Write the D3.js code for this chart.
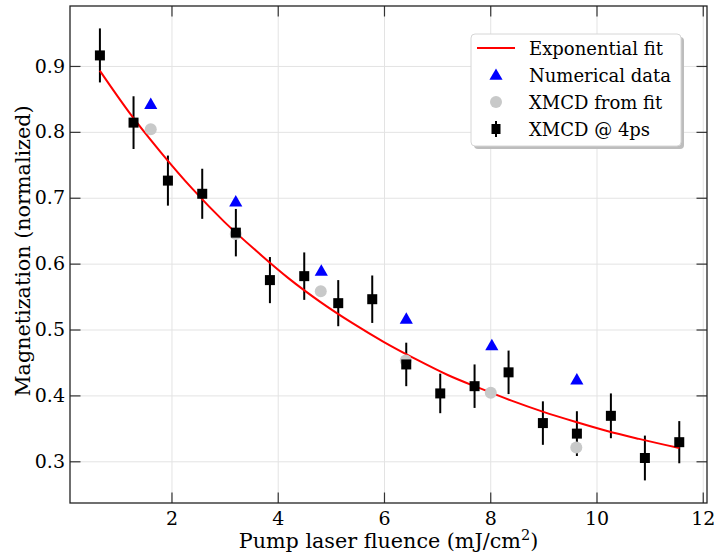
<!DOCTYPE html>
<html>
<head>
<meta charset="utf-8">
<script src="https://cdn.jsdelivr.net/npm/d3@7"></script>
<style>
  body { margin: 0; background: #fff; }
  text { font-family: "DejaVu Serif", serif; fill: #000; }
</style>
</head>
<body>
<div id="chart"></div>
<script>
// XMCD @ 4ps (squares with error bars)
const xmcdX   = [0.653, 1.286, 1.933, 2.579, 3.212, 3.853, 4.499, 5.139, 5.779, 6.419, 7.059, 7.705, 8.345, 8.991, 9.631, 10.271, 10.911, 11.558];
const xmcdY   = [0.916, 0.814, 0.726, 0.706, 0.647, 0.575, 0.581, 0.540, 0.546, 0.447, 0.403, 0.414, 0.435, 0.358, 0.342, 0.369, 0.305, 0.329];
const xmcdErr = [0.041, 0.040, 0.038, 0.038, 0.036, 0.035, 0.036, 0.035, 0.036, 0.033, 0.030, 0.033, 0.033, 0.033, 0.034, 0.034, 0.034, 0.032];

// Numerical data (triangles)
const numX = [1.61, 3.21, 4.82, 6.42, 8.03, 9.63];
const numY = [0.842, 0.694, 0.589, 0.516, 0.476, 0.424];

// XMCD from fit (grey circles)
const fromFitX = [1.61, 3.21, 4.81, 6.41, 8.01, 9.62];
const fromFitY = [0.804, 0.645, 0.558, 0.453, 0.404, 0.321];

// Exponential fit
const fitX = [0.65, 1.2, 1.8, 2.4, 3.0, 3.6, 4.2, 4.8, 5.4, 6.0, 6.6, 7.2, 7.8, 8.4, 9.0, 9.6, 10.2, 10.8, 11.56];
const fitY = [0.893, 0.830, 0.769, 0.713, 0.663, 0.619, 0.578, 0.542, 0.510, 0.481, 0.455, 0.431, 0.411, 0.392, 0.375, 0.360, 0.346, 0.334, 0.320];

const xTicks = [2, 4, 6, 8, 10, 12];
const yTicks = [0.3, 0.4, 0.5, 0.6, 0.7, 0.8, 0.9];
const legendLabels = ["Exponential fit", "Numerical data", "XMCD from fit", "XMCD @ 4ps"];

const W = 714, H = 554;
const pL = 70, pR = 707, pT = 6, pB = 503;

const svg = d3.select("#chart").append("svg")
  .attr("width", W).attr("height", H);

const x = d3.scaleLinear().domain([0.09, 12.08]).range([pL, pR]);
const y = d3.scaleLinear().domain([0.2367, 0.991]).range([pB, pT]);

// grid
svg.append("g")
  .attr("transform", `translate(0,${pB})`)
  .call(d3.axisBottom(x).tickValues(xTicks).tickSize(-(pB - pT)).tickFormat(""))
  .call(g => g.select(".domain").remove())
  .call(g => g.selectAll("line").attr("stroke", "#e3e3e3").attr("stroke-width", 1));
svg.append("g")
  .attr("transform", `translate(${pL},0)`)
  .call(d3.axisLeft(y).tickValues(yTicks).tickSize(-(pR - pL)).tickFormat(""))
  .call(g => g.select(".domain").remove())
  .call(g => g.selectAll("line").attr("stroke", "#e3e3e3").attr("stroke-width", 1));

const plot = svg.append("g");

// error bars
plot.selectAll(".err").data(xmcdX).enter().append("line")
  .attr("x1", d => x(d)).attr("x2", d => x(d))
  .attr("y1", (d, i) => y(xmcdY[i] + xmcdErr[i]))
  .attr("y2", (d, i) => y(xmcdY[i] - xmcdErr[i]))
  .attr("stroke", "#000").attr("stroke-width", 2);

// fit line
const line = d3.line().x(d => x(d[0])).y(d => y(d[1])).curve(d3.curveMonotoneX);
plot.append("path")
  .datum(fitX.map((v, i) => [v, fitY[i]]))
  .attr("d", line)
  .attr("fill", "none").attr("stroke", "#ff0000").attr("stroke-width", 2);

// triangles
const tri = d3.symbol().type(d3.symbolTriangle).size(75);
plot.selectAll(".tri").data(numX).enter().append("path")
  .attr("d", tri)
  .attr("transform", (d, i) => `translate(${x(d)},${y(numY[i]) + 1})`)
  .attr("fill", "#0000ff");

// grey circles
plot.selectAll(".fc").data(fromFitX).enter().append("circle")
  .attr("cx", d => x(d)).attr("cy", (d, i) => y(fromFitY[i]))
  .attr("r", 6).attr("fill", "#c8c9c9");

// squares
plot.selectAll(".sq").data(xmcdX).enter().append("rect")
  .attr("x", d => x(d) - 5).attr("y", (d, i) => y(xmcdY[i]) - 5)
  .attr("width", 10).attr("height", 10).attr("fill", "#000");

// axes with inward ticks
const tickLen = 10.5;
const styleAxis = g => {
  g.select(".domain").remove();
  g.selectAll(".tick line").attr("stroke", "#333").attr("stroke-width", 1.2);
  g.selectAll("text").style("font-size", "19px").style("font-family", "DejaVu Serif");
};
svg.append("g").attr("transform", `translate(0,${pB})`)
  .call(d3.axisBottom(x).tickValues(xTicks).tickSize(-tickLen).tickPadding(9).tickFormat(d3.format("d")))
  .call(styleAxis);
svg.append("g").attr("transform", `translate(${pL},0)`)
  .call(d3.axisLeft(y).tickValues(yTicks).tickSize(-tickLen).tickPadding(5).tickFormat(d3.format(".1f")))
  .call(styleAxis);
svg.append("g").attr("transform", `translate(0,${pT})`)
  .call(d3.axisTop(x).tickValues(xTicks).tickSize(-tickLen).tickFormat(""))
  .call(styleAxis);
svg.append("g").attr("transform", `translate(${pR},0)`)
  .call(d3.axisRight(y).tickValues(yTicks).tickSize(-tickLen).tickFormat(""))
  .call(styleAxis);

// frame
svg.append("rect")
  .attr("x", pL).attr("y", pT).attr("width", pR - pL).attr("height", pB - pT)
  .attr("fill", "none").attr("stroke", "#222").attr("stroke-width", 1.3);

// axis labels
const xl = svg.append("text")
  .attr("x", (pL + pR) / 2).attr("y", 548)
  .attr("text-anchor", "middle").style("font-size", "20.7px");
xl.append("tspan").text("Pump laser fluence (mJ/cm");
xl.append("tspan").text("2").attr("dy", -8).style("font-size", "14.5px");
xl.append("tspan").text(")").attr("dy", 8);

svg.append("text")
  .attr("transform", `translate(29.5,251) rotate(-90)`)
  .attr("text-anchor", "middle").style("font-size", "20.7px")
  .text("Magnetization (normalized)");

// legend
const lg = svg.append("g");
lg.append("rect").attr("x", 474).attr("y", 37).attr("width", 210).attr("height", 112)
  .attr("rx", 4).attr("fill", "#bdbdbd");
lg.append("rect").attr("x", 471).attr("y", 34).attr("width", 210).attr("height", 112)
  .attr("rx", 4).attr("fill", "#fff").attr("stroke", "#d6d6d6").attr("stroke-width", 1);

const rowY = d3.scalePoint().domain(legendLabels).range([48, 129]);
const hx = 496;
lg.append("line").attr("x1", 477).attr("x2", 515)
  .attr("y1", rowY(legendLabels[0])).attr("y2", rowY(legendLabels[0]))
  .attr("stroke", "#ff0000").attr("stroke-width", 2);
lg.append("path").attr("d", tri)
  .attr("transform", `translate(${hx},${rowY(legendLabels[1]) + 1})`).attr("fill", "#0000ff");
lg.append("circle").attr("cx", hx).attr("cy", rowY(legendLabels[2])).attr("r", 6).attr("fill", "#c8c9c9");
lg.append("line").attr("x1", hx).attr("x2", hx)
  .attr("y1", rowY(legendLabels[3]) - 8).attr("y2", rowY(legendLabels[3]) + 8)
  .attr("stroke", "#000").attr("stroke-width", 2);
lg.append("rect").attr("x", hx - 4.5).attr("y", rowY(legendLabels[3]) - 5)
  .attr("width", 9).attr("height", 10).attr("fill", "#000");

lg.selectAll(".lt").data(legendLabels).enter().append("text")
  .attr("x", 529).attr("y", d => rowY(d) + 6.5)
  .style("font-size", "18px")
  .text(d => d);
</script>
</body>
</html>
